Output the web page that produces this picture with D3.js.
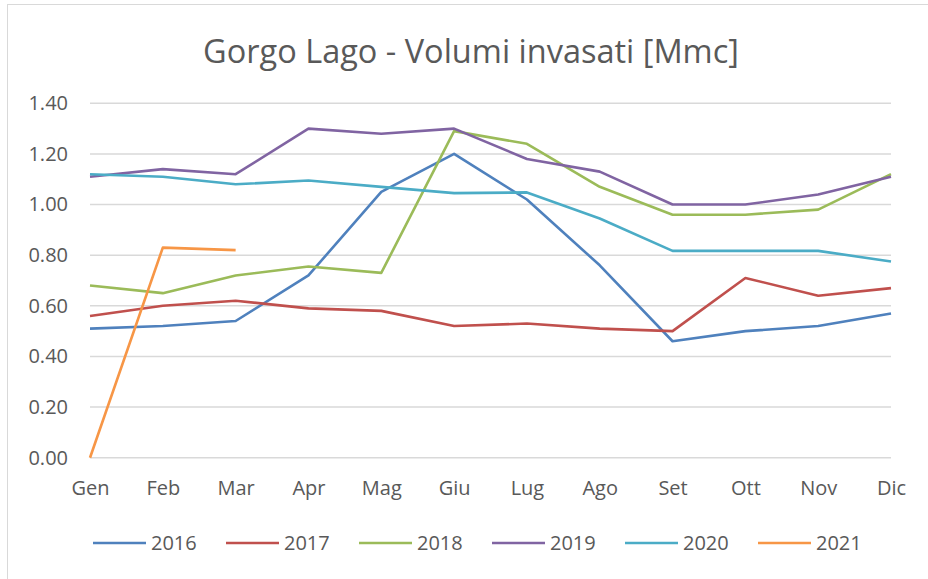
<!DOCTYPE html>
<html>
<head>
<meta charset="utf-8">
<script src="https://cdn.jsdelivr.net/npm/d3@7"></script>
<style>
  body { margin: 0; background: #fff; }
  text { font-family: "Open Sans", sans-serif; fill: #595959; }
</style>
</head>
<body>
<div id="chart"></div>
<script>
// months and yearly series (Mmc)
const months = ["Gen", "Feb", "Mar", "Apr", "Mag", "Giu", "Lug", "Ago", "Set", "Ott", "Nov", "Dic"];
const years = ["2016", "2017", "2018", "2019", "2020", "2021"];
const v2016 = [0.51, 0.52, 0.54, 0.72, 1.05, 1.20, 1.02, 0.76, 0.46, 0.50, 0.52, 0.57];
const v2017 = [0.56, 0.60, 0.62, 0.59, 0.58, 0.52, 0.53, 0.51, 0.50, 0.71, 0.64, 0.67];
const v2018 = [0.68, 0.65, 0.72, 0.755, 0.73, 1.29, 1.24, 1.07, 0.96, 0.96, 0.98, 1.12];
const v2019 = [1.11, 1.14, 1.12, 1.30, 1.28, 1.30, 1.18, 1.13, 1.00, 1.00, 1.04, 1.11];
const v2020 = [1.12, 1.11, 1.08, 1.095, 1.07, 1.045, 1.048, 0.945, 0.817, 0.817, 0.817, 0.775];
const v2021 = [0.00, 0.83, 0.82];
const yTicks = [0, 0.2, 0.4, 0.6, 0.8, 1.0, 1.2, 1.4];
const colors = ["#4F81BD", "#C0504D", "#9BBB59", "#8064A2", "#4BACC6", "#F79646"];

const series = [v2016, v2017, v2018, v2019, v2020, v2021].map((vals, i) => ({
    name: years[i],
    color: colors[i],
    values: vals.map((v, j) => ({ month: months[j], value: v }))
}));

const width = 928, height = 579;

const svg = d3.select("#chart")
    .append("svg")
    .attr("width", width)
    .attr("height", height);

// chart frame (only top/left edges show in the crop)
svg.append("rect")
    .attr("x", 7.5).attr("y", 4.5)
    .attr("width", 940).attr("height", 600)
    .attr("fill", "none")
    .attr("stroke", "#d9d9d9")
    .attr("stroke-width", 1);

const x = d3.scalePoint()
    .domain(months)
    .range([90, 891]);

const y = d3.scaleLinear()
    .domain([0, 1.4])
    .range([457.7, 103.3]);

// title
svg.append("text")
    .attr("x", 471)
    .attr("y", 63)
    .attr("text-anchor", "middle")
    .style("font-size", "32.5px")
    .text("Gorgo Lago - Volumi invasati [Mmc]");

// gridlines
svg.append("g")
    .selectAll("line")
    .data(yTicks)
    .enter()
    .append("line")
    .attr("x1", 90)
    .attr("x2", 891)
    .attr("y1", d => y(d))
    .attr("y2", d => y(d))
    .attr("stroke", "#d9d9d9")
    .attr("stroke-width", 1.5);

// y axis labels
const yAxis = svg.append("g")
    .attr("transform", "translate(80,0)")
    .call(d3.axisLeft(y).tickValues(yTicks).tickFormat(d3.format(".2f")).tickSize(0).tickPadding(12));
yAxis.select(".domain").remove();
yAxis.selectAll("text")
    .style("font-size", "20px")
    .attr("fill", "#595959");

// x axis labels
const xAxis = svg.append("g")
    .attr("transform", "translate(0,473)")
    .call(d3.axisBottom(x).tickSize(0).tickPadding(8));
xAxis.select(".domain").remove();
xAxis.selectAll("text")
    .style("font-size", "20px")
    .attr("fill", "#595959");

const line = d3.line()
    .x(d => x(d.month))
    .y(d => y(d.value));

svg.append("g")
    .selectAll("path")
    .data(series)
    .enter()
    .append("path")
    .attr("d", d => line(d.values))
    .attr("fill", "none")
    .attr("stroke", d => d.color)
    .attr("stroke-width", 2.6)
    .attr("stroke-linejoin", "round");

// legend
const legend = svg.append("g")
    .selectAll("g")
    .data(series)
    .enter()
    .append("g")
    .attr("transform", (d, i) => `translate(${93 + i * 133},543)`);

legend.append("line")
    .attr("x1", 0).attr("x2", 53)
    .attr("stroke", d => d.color)
    .attr("stroke-width", 2.6);

legend.append("text")
    .attr("x", 58)
    .attr("y", 7)
    .style("font-size", "20px")
    .text(d => d.name);
</script>
</body>
</html>
